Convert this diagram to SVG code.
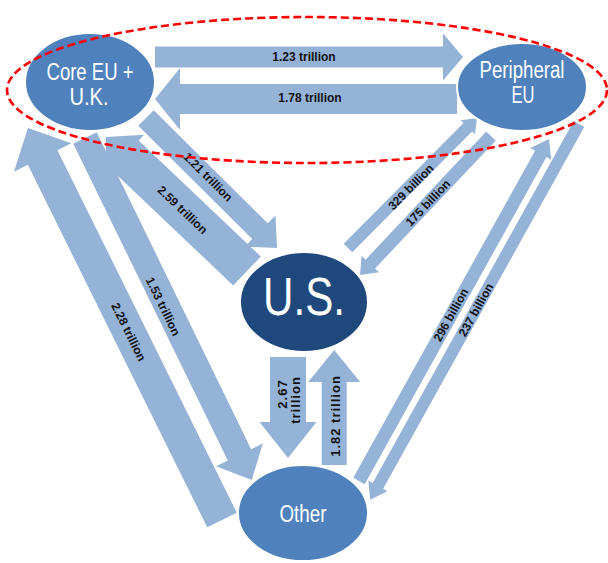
<svg xmlns="http://www.w3.org/2000/svg" width="608" height="563" viewBox="0 0 608 563">
<style>
.arrow{fill:#95B3D7}
.node{fill:#4F81BD;stroke:#fff;stroke-width:2}
.us{fill:#1F497D}
.nl{font-family:"Liberation Sans",Arial,sans-serif;fill:#fff;text-anchor:middle}
.lbl{font-family:"Liberation Sans",Arial,sans-serif;font-weight:bold;font-size:12px;fill:#111;text-anchor:middle}
.vl{font-family:"Liberation Sans",Arial,sans-serif;font-weight:bold;font-size:13px;letter-spacing:1px;fill:#111;text-anchor:middle}
.ring{fill:none;stroke:#f00;stroke-width:2.6;stroke-dasharray:8 4}
</style>
<rect width="608" height="563" fill="#fff"/>
<g id="connectors">
  <polygon class="arrow" transform="translate(155,57)" points="0,-10.5 288,-10.5 288,-23.5 308,0 288,23.5 288,10.5 0,10.5"/>
  <polygon class="arrow" transform="translate(457,99) rotate(180)" points="0,-15 277,-15 277,-31 302,0 277,31 277,15 0,15"/>
  <polygon class="arrow" transform="translate(146,118) rotate(44.78)" points="0,-11 160.6,-11 160.6,-22 184.6,0 160.6,22 160.6,11 0,11"/>
  <polygon class="arrow" transform="translate(247,271) rotate(-136.46)" points="0,-20 168.5,-20 168.5,-28 194.5,0 168.5,28 168.5,20 0,20"/>
  <polygon class="arrow" transform="translate(85,138) rotate(64.01)" points="0,-13 352.5,-13 352.5,-26 380.5,0 352.5,26 352.5,13 0,13"/>
  <polygon class="arrow" transform="translate(222,520) rotate(-116.33)" points="0,-16.5 404.4,-16.5 404.4,-32 437.4,0 404.4,32 404.4,16.5 0,16.5"/>
  <polygon class="arrow" transform="translate(348,248) rotate(-45.22)" points="0,-6 170.1,-6 170.1,-10 183.1,0 170.1,10 170.1,6 0,6"/>
  <polygon class="arrow" transform="translate(491,136) rotate(133.3)" points="0,-6.5 176,-6.5 176,-12 191,0 176,12 176,6.5 0,6.5"/>
  <polygon class="arrow" transform="translate(359,481) rotate(-60.94)" points="0,-6.5 374.2,-6.5 374.2,-12 391.2,0 374.2,12 374.2,6.5 0,6.5"/>
  <polygon class="arrow" transform="translate(579,124) rotate(119.06)" points="0,-6 414,-6 414,-11 430,0 414,11 414,6 0,6"/>
  <polygon class="arrow" transform="translate(288,357) rotate(90)" points="0,-18 65,-18 65,-28.5 101,0 65,28.5 65,18 0,18"/>
  <polygon class="arrow" transform="translate(334.2,465) rotate(-90)" points="0,-12.5 83,-12.5 83,-26 115,0 83,26 83,12.5 0,12.5"/>
  <text class="lbl" x="304" y="61">1.23 trillion</text>
  <text class="lbl" x="310" y="102">1.78 trillion</text>
  <text class="lbl" transform="translate(208,177) rotate(44.8)" y="4">1.21 trillion</text>
  <text class="lbl" transform="translate(182.5,210) rotate(43.5)" y="4">2.59 trillion</text>
  <text class="lbl" transform="translate(163,306.5) rotate(64)" y="4">1.53 trillion</text>
  <text class="lbl" transform="translate(128.5,332) rotate(63.7)" y="4">2.28 trillion</text>
  <text class="lbl" transform="translate(411,187) rotate(-45.2)" y="4">329 billion</text>
  <text class="lbl" transform="translate(428,203) rotate(-46.7)" y="4">175 billion</text>
  <text class="lbl" transform="translate(451,315) rotate(-60.9)" y="4">296 billion</text>
  <text class="lbl" transform="translate(476,310) rotate(-60.9)" y="4">237 billion</text>
  <text class="vl" transform="translate(282,394) rotate(-90)" y="4.5">2.67</text>
  <text class="vl" transform="translate(295,400) rotate(-90)" y="4.5">trillion</text>
  <text class="vl" transform="translate(335,416) rotate(-90)" y="4.5">1.82 trillion</text>
</g>
<g id="core-eu-uk">
  <ellipse class="node" cx="90" cy="82" rx="65" ry="49"/>
  <text class="nl" x="90" y="80" font-size="23" textLength="87" lengthAdjust="spacingAndGlyphs">Core EU +</text>
  <text class="nl" x="89" y="105" font-size="23" textLength="39" lengthAdjust="spacingAndGlyphs">U.K.</text>
</g>
<g id="peripheral-eu">
  <ellipse class="node" cx="522" cy="87" rx="65" ry="44"/>
  <text class="nl" x="522" y="78" font-size="23" textLength="85" lengthAdjust="spacingAndGlyphs">Peripheral</text>
  <text class="nl" x="523" y="103" font-size="23" textLength="23" lengthAdjust="spacingAndGlyphs">EU</text>
</g>
<g id="us">
  <ellipse class="node us" cx="304" cy="302" rx="64" ry="50"/>
  <text class="nl" x="304" y="315" font-size="53" textLength="82" lengthAdjust="spacingAndGlyphs">U.S.</text>
</g>
<g id="other">
  <ellipse class="node" cx="303" cy="513" rx="65" ry="48"/>
  <text class="nl" x="303" y="522" font-size="23" textLength="47" lengthAdjust="spacingAndGlyphs">Other</text>
</g>
<ellipse id="eu-ring" class="ring" cx="307" cy="90" rx="300" ry="73"/>
</svg>
